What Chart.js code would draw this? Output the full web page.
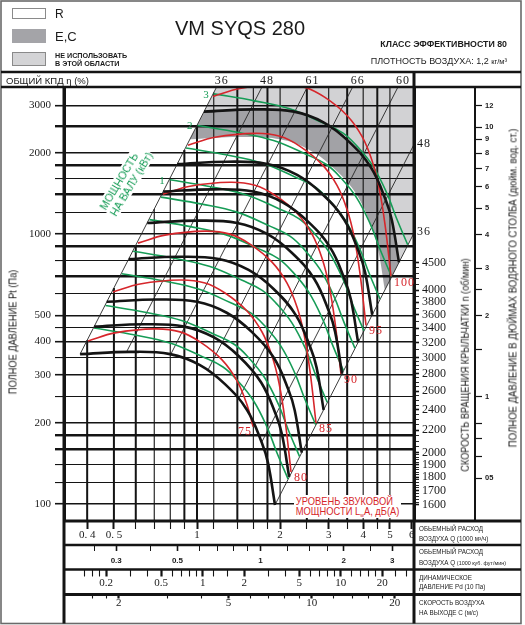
<!DOCTYPE html>
<html lang="ru">
<head>
<meta charset="utf-8">
<title>VM SYQS 280</title>
<script src="https://cdn.jsdelivr.net/npm/chart.js@4.4.1/dist/chart.umd.min.js"></script>
<style>
html,body{margin:0;padding:0;background:#fff;}
#wrap{position:relative;width:525px;height:625px;overflow:hidden;font-family:"Liberation Sans",Arial,sans-serif;color:#1b1b1b;}
#c{position:absolute;left:0;top:0;}
.t{position:absolute;white-space:nowrap;line-height:1;z-index:2;}
.box{position:absolute;z-index:2;box-sizing:border-box;}
.rot{position:absolute;white-space:nowrap;line-height:1;z-index:2;transform-origin:50% 50%;}
.row{position:absolute;left:419px;white-space:nowrap;line-height:1;font-size:7px;z-index:2;transform-origin:0 50%;transform:scaleX(0.9);}
</style>
</head>
<body>
<div id="wrap">
<canvas id="c" width="525" height="625"></canvas>

<div class="box" style="left:12px;top:8px;width:34px;height:11px;border:1px solid #8a8a8a;background:#fff"></div>
<div class="t" style="left:55px;top:8.3px;font-size:12px">R</div>
<div class="box" style="left:12px;top:29px;width:34px;height:14px;background:#a4a4a8"></div>
<div class="t" style="left:55px;top:30.3px;font-size:13px">E,C</div>
<div class="box" style="left:12px;top:52px;width:34px;height:14px;border:1px solid #8a8a8a;background:#d4d4d6"></div>
<div class="t" style="left:55px;top:52px;font-size:7.2px;font-weight:bold">НЕ ИСПОЛЬЗОВАТЬ</div>
<div class="t" style="left:55px;top:59.5px;font-size:7.2px;font-weight:bold">В ЭТОЙ ОБЛАСТИ</div>
<div class="t" style="left:175px;top:18px;font-size:20px">VM SYQS 280</div>
<div class="t" style="right:18px;top:39.7px;font-size:8.8px;font-weight:bold">КЛАСС ЭФФЕКТИВНОСТИ 80</div>
<div class="t" style="right:18px;top:57.1px;font-size:9px">ПЛОТНОСТЬ ВОЗДУХА: 1,2 <span style="font-size:7.5px">кг/м³</span></div>
<div class="t" style="left:6px;top:76.3px;font-size:9.5px">ОБЩИЙ КПД η (%)</div>

<div class="rot" style="left:12.5px;top:332px;font-size:11px;transform:translate(-50%,-50%) rotate(-90deg) scaleX(0.84)">ПОЛНОЕ ДАВЛЕНИЕ Pt (Па)</div>
<div class="rot" style="left:465px;top:365px;font-size:10.5px;transform:translate(-50%,-50%) rotate(-90deg) scaleX(0.875)">СКОРОСТЬ ВРАЩЕНИЯ КРЫЛЬЧАТКИ n (об/мин)</div>
<div class="rot" style="left:513px;top:288px;font-size:11px;transform:translate(-50%,-50%) rotate(-90deg) scaleX(0.87)">ПОЛНОЕ ДАВЛЕНИЕ В ДЮЙМАХ ВОДЯНОГО СТОЛБА (дюйм. вод. ст.)</div>

<div class="rot" style="left:125.5px;top:181px;font-size:10.7px;line-height:12px;color:#169c56;background:#fff;padding:0 1px;transform:translate(-50%,-50%) rotate(-59deg)">МОЩНОСТЬ<br>НА ВАЛУ (кВт)</div>

<div class="t" style="left:294px;top:494.6px;padding:1px 2px;font-size:11px;line-height:10.7px;color:#d6262b;background:#fff;transform-origin:0 0;transform:scaleX(0.85)">УРОВЕНЬ ЗВУКОВОЙ<br>МОЩНОСТИ L<sub style="font-size:6px;vertical-align:-2px;line-height:0">w</sub>A, дБ(A)</div>

<div class="row" style="top:524.9px">ОБЬЕМНЫЙ РАСХОД</div>
<div class="row" style="top:535.4px">ВОЗДУХА Q (1000 м³/ч)</div>
<div class="row" style="top:548.4px">ОБЬЕМНЫЙ РАСХОД</div>
<div class="row" style="top:558.6px">ВОЗДУХА Q <span style="font-size:6px">(1000 куб. фут/мин)</span></div>
<div class="row" style="top:574.1px">ДИНАМИЧЕСКОЕ</div>
<div class="row" style="top:583.3px">ДАВЛЕНИЕ Pd (10 Па)</div>
<div class="row" style="top:599.3px">СКОРОСТЬ ВОЗДУХА</div>
<div class="row" style="top:609.3px">НА ВЫХОДЕ C (м/с)</div>
</div>

<script>
// ================= DATA =================
// Fan curves at constant impeller speed: flow Q [1000 m3/h], total pressure Pt [Pa]
const RPM_VALUES = [1600, 1800, 2000, 2400, 2800, 3200, 3600, 4500];
const RPM_Q = [
  [0.377, 0.572, 0.799, 1.025, 1.263, 1.518, 1.720, 1.808, 1.917],
  [0.424, 0.644, 0.899, 1.153, 1.421, 1.708, 1.935, 2.034, 2.157],
  [0.471, 0.715, 0.999, 1.281, 1.579, 1.898, 2.150, 2.260, 2.396],
  [0.566, 0.858, 1.199, 1.538, 1.895, 2.277, 2.580, 2.712, 2.876],
  [0.660, 1.001, 1.398, 1.794, 2.210, 2.657, 3.010, 3.164, 3.355],
  [0.754, 1.144, 1.598, 2.050, 2.526, 3.036, 3.440, 3.616, 3.834],
  [0.848, 1.287, 1.798, 2.306, 2.842, 3.416, 3.870, 4.068, 4.313],
  [1.060, 1.609, 2.247, 2.883, 3.552, 4.269, 4.838, 5.085, 5.392]
];
const RPM_P = [
  [359, 366, 359, 327, 278, 223, 168, 142, 99.2],
  [454, 463, 454, 414, 352, 282, 213, 180, 126],
  [561, 572, 561, 511, 434, 348, 263, 222, 155],
  [808, 824, 808, 736, 626, 502, 378, 320, 223],
  [1099, 1121, 1099, 1001, 851, 683, 515, 435, 304],
  [1436, 1464, 1436, 1308, 1112, 892, 672, 568, 397],
  [1817, 1853, 1817, 1655, 1407, 1129, 851, 719, 502],
  [2840, 2895, 2840, 2587, 2199, 1764, 1329, 1123, 785]
];
// Lower edge of the E,C band
const EC_LIMIT_Q = [0.943, 1.430, 1.998, 2.563, 3.158, 3.795, 4.300, 4.520, 4.793];
const EC_LIMIT_P = [2244, 2288, 2244, 2044, 1738, 1394, 1050, 888, 620];

// Sound power level curves, LwA dB(A)
const SOUND_DB = [75, 80, 85, 90, 95, 100];
const SOUND_Q = [
  [0.4028, 0.5046, 0.7043, 0.8678, 1.0254, 1.2323, 1.3966, 1.5179, 1.5958],
  [0.4962, 0.6216, 0.8676, 1.0690, 1.2631, 1.5180, 1.7204, 1.8698, 1.9821, 2.0838, 2.1910],
  [0.6112, 0.7657, 1.0687, 1.3168, 1.5559, 1.8699, 2.1192, 2.3032, 2.4416, 2.5668, 2.6989],
  [0.7529, 0.9432, 1.3165, 1.6221, 1.9166, 2.3034, 2.6105, 2.8372, 3.0076, 3.1620, 3.3246],
  [0.9274, 1.1618, 1.6216, 1.9981, 2.3609, 2.8373, 3.2156, 3.4949, 3.7048, 3.8948, 4.0952],
  [1.1425, 1.4312, 1.9976, 2.4614, 2.9083, 3.4952, 3.9612, 4.3052, 4.5638, 4.7980, 5.0448]
];
const SOUND_P = [
  [401.9, 430.3, 445.2, 434.0, 398.4, 341.8, 285.7, 232.9, 193.5],
  [609.8, 652.9, 675.5, 658.5, 604.6, 518.6, 433.6, 353.4, 280.7, 204.7, 131.4],
  [925.3, 990.7, 1025.0, 999.2, 917.4, 786.9, 657.9, 536.3, 425.9, 310.6, 199.4],
  [1404.1, 1503.3, 1555.3, 1516.2, 1392.1, 1194.1, 998.4, 813.7, 646.3, 471.3, 302.5],
  [2130.5, 2281.1, 2360.1, 2300.7, 2112.4, 1811.9, 1514.9, 1234.7, 980.7, 715.2, 459.1],
  [3232.9, 3461.3, 3581.2, 3491.0, 3205.3, 2749.4, 2298.7, 1873.5, 1488.1, 1085.2, 696.6]
];

// Shaft power curves, kW
const POWER_KW = [0.15, 0.2, 0.3, 0.4, 0.6, 0.8, 1, 1.5, 2, 3];
const POWER_LABELED = [1, 2, 3];
const POWER_Q = [
  [0.4235, 0.5962, 0.7985, 1.0513, 1.2422, 1.3963, 1.5959, 1.7933, 1.9494, 2.1368],
  [0.4661, 0.6562, 0.8788, 1.1571, 1.3672, 1.5368, 1.7565, 1.9737, 2.1455, 2.3518],
  [0.5336, 0.7512, 1.0060, 1.3245, 1.5651, 1.7592, 2.0107, 2.2594, 2.4561, 2.6922],
  [0.5873, 0.8268, 1.1073, 1.4578, 1.7226, 1.9363, 2.2130, 2.4868, 2.7032, 2.9631],
  [0.6723, 0.9464, 1.2675, 1.6688, 1.9719, 2.2165, 2.5333, 2.8467, 3.0945, 3.3920],
  [0.7399, 1.0417, 1.3951, 1.8368, 2.1704, 2.4396, 2.7884, 3.1333, 3.4060, 3.7334],
  [0.7971, 1.1221, 1.5029, 1.9787, 2.3380, 2.6280, 3.0036, 3.3752, 3.6690, 4.0217],
  [0.9124, 1.2845, 1.7203, 2.2649, 2.6762, 3.0082, 3.4382, 3.8635, 4.1998, 4.6035],
  [1.0043, 1.4138, 1.8935, 2.4930, 2.9456, 3.3111, 3.7844, 4.2525, 4.6226, 5.0670],
  [1.1496, 1.6183, 2.1675, 2.8537, 3.3718, 3.7901, 4.3319, 4.8677, 5.2915, 5.8001]
];
const POWER_P = [
  [448.6, 422.6, 394.8, 350.4, 321.7, 287.9, 242.7, 192.8, 154.5, 123.8],
  [543.4, 511.9, 478.3, 424.5, 389.7, 348.8, 294.0, 233.6, 187.2, 150.0],
  [712.1, 670.8, 626.7, 556.2, 510.7, 457.0, 385.3, 306.1, 245.3, 196.5],
  [862.7, 812.7, 759.2, 673.8, 618.6, 553.6, 466.7, 370.8, 297.1, 238.1],
  [1130.4, 1064.9, 994.8, 882.9, 810.6, 725.5, 611.6, 485.8, 389.3, 311.9],
  [1369.4, 1290.1, 1205.2, 1069.7, 982.1, 878.9, 740.9, 588.6, 471.6, 377.9],
  [1589.1, 1497.0, 1398.5, 1241.2, 1139.6, 1019.8, 859.7, 683.0, 547.3, 438.5],
  [2082.2, 1961.5, 1832.5, 1626.4, 1493.2, 1336.3, 1126.5, 894.9, 717.1, 574.6],
  [2522.5, 2376.3, 2220.0, 1970.3, 1809.0, 1618.9, 1364.7, 1084.1, 868.8, 696.1],
  [3305.3, 3113.8, 2908.9, 2581.8, 2370.3, 2121.3, 1788.2, 1420.6, 1138.4, 912.2]
];

// Efficiency rays (total efficiency, %): start on the lowest curve, end beyond the frame
const ETA = [36, 48, 61, 66, 60, 48, 36];
const DIAG_FROM_Q = [0.377, 0.555, 0.804, 1.095, 1.414, 1.719, 1.917];
const DIAG_FROM_P = [359, 365, 359, 313, 245, 170, 99.2];
const DIAG_TO_Q = [1.210, 1.767, 2.580, 3.765, 5.496, 6.2, 6.2];
const DIAG_TO_P = [3700, 3700, 3700, 3700, 3700, 2210, 1037.5];

// Grid and tick values
const P_TICKS = [100, 120, 140, 160, 180, 200, 250, 300, 350, 400, 450, 500, 600, 700, 800, 900, 1000, 1200, 1400, 1600, 1800, 2000, 2500, 3000];
const P_LABELS = [100, 200, 300, 400, 500, 1000, 2000, 3000];
const P_THICK = [160, 180, 700, 900, 1400, 1800, 2500];
const V_GRID_Q = [0.4, 0.5, 0.6, 0.7, 0.8, 0.9, 1, 1.15, 1.4, 1.6, 1.8, 2, 2.5, 3, 3.5, 4, 4.5, 5];
const V_GRID_THICK = [0.4, 0.5, 0.6, 0.9, 1, 1.4, 1.8, 2.5, 3.5, 4.5];
const Q_TICKS = [0.4, 0.5, 0.6, 0.7, 0.8, 0.9, 1, 1.15, 1.4, 1.6, 1.8, 2, 2.5, 3, 3.5, 4, 4.5, 5, 6];
const Q_LABELS = [0.4, 0.5, 1, 2, 3, 4, 5, 6];
const Q_LABEL_TEXT = ['0. 4', '0. 5', '1', '2', '3', '4', '5', '6'];
const CFM_TICKS = [0.25, 0.3, 0.4, 0.5, 0.6, 0.7, 0.8, 0.9, 1, 1.25, 1.5, 1.75, 2, 2.5, 3];
const CFM_LABELS = [0.3, 0.5, 1, 2, 3];
const PD_TICKS = [0.14, 0.16, 0.18, 0.2, 0.3, 0.4, 0.5, 0.6, 0.7, 0.8, 0.9, 1, 1.2, 1.5, 2, 3, 4, 5, 6, 7, 8, 9, 10, 12, 14, 16, 18, 20, 25, 30];
const PD_LABELS = [0.2, 0.5, 1, 2, 5, 10, 20];
const C_TICKS = [1.6, 1.8, 2, 3, 4, 5, 6, 7, 8, 9, 10, 12, 14, 16, 18, 20];
const C_LABELS = [2, 5, 10, 20];
const RPM_LABELS = [1600, 1700, 1800, 1900, 2000, 2200, 2400, 2600, 2800, 3000, 3200, 3400, 3600, 3800, 4000, 4500];
const RPM_MINOR = [1620, 1640, 1660, 1680, 1720, 1740, 1760, 1780, 1820, 1840, 1860, 1880, 1920, 1940, 1960, 1980,
  2050, 2100, 2150, 2250, 2300, 2350, 2450, 2500, 2550, 2650, 2700, 2750, 2850, 2900, 2950,
  3100, 3300, 3500, 3700, 3900, 4100, 4200, 4300, 4400];
const INCH_TICKS = [0.5, 0.6, 0.7, 0.8, 1, 1.5, 2, 2.5, 3, 4, 5, 6, 7, 8, 9, 10, 12];
const INCH_LABELS = [0.5, 1, 2, 3, 4, 5, 6, 7, 8, 9, 10, 12];
const INCH_LABEL_TEXT = ['05', '1', '2', '3', '4', '5', '6', '7', '8', '9', '10', '12'];

// Axis ranges and unit conversions
const Q_MIN = 0.3297, Q_MAX = 6.112, P_MIN = 86.5, P_MAX = 3504;
const CFM_FACTOR = 1.699;   // 1000 m3/h per 1000 cfm
const PD_Q_REF = 1.0487;    // Q where dynamic pressure = 10 Pa
const C_FACTOR = 3.841;     // outlet velocity m/s per 1000 m3/h
const INCH_PA = 249.09;     // Pa per inch of water

// ================= BUILD =================
const BLACK = '#141414', RED = '#d6262b', GREEN = '#169c56';
const SERIF = "'Liberation Serif','Times New Roman',serif";
const SANS = "'Liberation Sans',Arial,sans-serif";
Chart.defaults.font.family = SANS;

const near = (a, b) => Math.abs(a - b) <= 1e-7 * Math.max(1, Math.abs(b));
const has = (arr, v) => arr.some(w => near(w, v));
const pts = (qs, ps) => qs.map((q, i) => ({x: q, y: ps[i]}));
const dupEnds = arr => [arr[0], ...arr, arr[arr.length - 1]];
const setTicks = vals => scale => { scale.ticks = vals.map(v => ({value: v})); };
const labeler = (vals, texts) => v => { const i = vals.findIndex(w => near(w, v)); return i < 0 ? '' : (texts ? texts[i] : String(vals[i])); };
const tickW = (labels, wMaj, wMin) => c => (c.tick && has(labels, c.tick.value)) ? wMaj : wMin;

const RPM_TICKS = [...RPM_LABELS, ...RPM_MINOR].sort((a, b) => a - b);
const RPM_BASE_END_P = RPM_P[0][RPM_P[0].length - 1];
const RPM_MIN = RPM_VALUES[0] * Math.sqrt(P_MIN / RPM_BASE_END_P);
const RPM_MAX = RPM_VALUES[0] * Math.sqrt(P_MAX / RPM_BASE_END_P);

const common = {pointRadius: 0, pointHoverRadius: 0, xAxisID: 'x', yAxisID: 'y'};
const datasets = [];

// zones
const topCurve = pts(RPM_Q[RPM_Q.length - 1], RPM_P[RPM_P.length - 1]);
const ecCurve = pts(EC_LIMIT_Q, EC_LIMIT_P);
const diagTop = {x: DIAG_TO_Q[0], y: DIAG_TO_P[0]};
const diagRight = {x: DIAG_TO_Q[DIAG_TO_Q.length - 1], y: DIAG_TO_P[DIAG_TO_P.length - 1]};
const corner = {x: diagRight.x, y: diagTop.y};
const lightZone = [diagTop, diagTop, corner, corner, diagRight, diagRight, ...dupEnds(topCurve.slice().reverse())];
const ecZone = [...dupEnds(topCurve), ...dupEnds(ecCurve.slice().reverse())];
datasets.push({...common, label: 'НЕ ИСПОЛЬЗОВАТЬ', data: lightZone, fill: 'shape', backgroundColor: 'rgba(0,0,14,0.175)', borderColor: 'rgba(0,0,0,0)', borderWidth: 0, tension: 0.4, order: 40});
datasets.push({...common, label: 'E,C', data: ecZone, fill: 'shape', backgroundColor: 'rgba(0,0,10,0.365)', borderColor: 'rgba(0,0,0,0)', borderWidth: 0, tension: 0.4, order: 39});

// vertical grid (only right of the left efficiency ray)
const kLeft = DIAG_FROM_P[0] / (DIAG_FROM_Q[0] * DIAG_FROM_Q[0]);
V_GRID_Q.forEach(q => datasets.push({...common, label: 'grid', fill: false, tension: 0,
  data: [{x: q, y: Math.min(kLeft * q * q, DIAG_TO_P[0])}, {x: q, y: P_MIN * 0.9}],
  borderColor: BLACK, borderWidth: has(V_GRID_THICK, q) ? 2 : 1.1, order: 30}));

// efficiency rays
ETA.forEach((e, j) => datasets.push({...common, label: 'η ' + e, fill: false, tension: 0,
  data: [{x: DIAG_FROM_Q[j], y: DIAG_FROM_P[j]}, {x: DIAG_TO_Q[j], y: DIAG_TO_P[j]}],
  borderColor: '#262626', borderWidth: 0.9, order: 28}));

POWER_KW.forEach((kw, i) => datasets.push({...common, label: kw + ' кВт', fill: false, tension: 0.4,
  data: pts(POWER_Q[i], POWER_P[i]), borderColor: GREEN, borderWidth: 1.6, order: 12}));
SOUND_DB.forEach((db, i) => datasets.push({...common, label: db + ' дБ(A)', fill: false, tension: 0.4,
  data: pts(SOUND_Q[i], SOUND_P[i]), borderColor: RED, borderWidth: 1.6, order: 10}));
RPM_VALUES.forEach((n, i) => datasets.push({...common, label: n + ' об/мин', fill: false, tension: 0.4,
  data: pts(RPM_Q[i], RPM_P[i]), borderColor: BLACK, borderWidth: 2.6, order: 8}));

function bottomAxis(weight, min, max, ticks, labels, texts, height, tickLen, pad, font, wMaj, wMin) {
  return {
    type: 'logarithmic', axis: 'x', position: 'bottom', weight, min, max, bounds: 'data',
    afterBuildTicks: setTicks(ticks),
    afterFit: s => { s.height = height; },
    border: {display: false},
    grid: {display: true, drawOnChartArea: false, drawTicks: true, tickLength: tickLen, color: BLACK, lineWidth: 1, tickWidth: tickW(labels, wMaj, wMin)},
    ticks: {autoSkip: false, maxRotation: 0, minRotation: 0, padding: pad, color: '#1a1a1a', font, callback: labeler(labels, texts)}
  };
}

const framePlugin = {
  id: 'frame',
  afterDraw(chart) {
    const {ctx, chartArea: a, scales} = chart;
    const X = scales.x, Y = scales.y;
    const R = 521, B = 623.5;
    ctx.save();
    const L = (x1, y1, x2, y2, w, c) => { ctx.beginPath(); ctx.lineWidth = w; ctx.strokeStyle = c || BLACK; ctx.moveTo(x1, y1); ctx.lineTo(x2, y2); ctx.stroke(); };
    ctx.lineWidth = 1.6; ctx.strokeStyle = '#6a6a6a'; ctx.strokeRect(1, 1, R - 1, B - 1);
    L(1, 72, R, 72, 2.5);
    L(1, a.top, R, a.top, 2.5);
    L(a.left, a.top, a.left, B, 3);
    L(a.right, 72, a.right, B, 3);
    ['x', 'xcfm', 'xpd', 'xc'].forEach((id, i) => L(a.left, scales[id].top, R, scales[id].top, (i === 0 || i === 3) ? 3 : 2.4));

    const hasLS = 'letterSpacing' in ctx;
    // efficiency labels
    ctx.fillStyle = '#1a1a1a';
    ctx.font = "12px " + SERIF;
    if (hasLS) ctx.letterSpacing = '1px';
    ETA.forEach((eta, j) => {
      const x0 = X.getPixelForValue(DIAG_FROM_Q[j]), y0 = Y.getPixelForValue(DIAG_FROM_P[j]);
      const x1 = X.getPixelForValue(DIAG_TO_Q[j]), y1 = Y.getPixelForValue(DIAG_TO_P[j]);
      const dxdy = (x1 - x0) / (y1 - y0);
      const xTop = x0 + (a.top - y0) * dxdy;
      ctx.textBaseline = 'middle';
      if (xTop <= a.right) {
        const ly = (72 + a.top) / 2 + 1.5;
        ctx.textAlign = 'center';
        ctx.fillText(String(eta), x0 + (ly - y0) * dxdy + 2, ly);
      } else {
        const yEdge = y0 + (a.right - x0) / dxdy;
        ctx.textAlign = 'left';
        ctx.fillText(String(eta), a.right + 3, yEdge - 1);
      }
    });
    // power labels
    if (hasLS) ctx.letterSpacing = '0px';
    ctx.fillStyle = GREEN; ctx.font = "11px " + SERIF;
    POWER_KW.forEach((kw, i) => {
      if (!has(POWER_LABELED, kw)) return;
      const px = X.getPixelForValue(POWER_Q[i][0]), py = Y.getPixelForValue(POWER_P[i][0]);
      ctx.textAlign = 'right'; ctx.textBaseline = 'middle';
      ctx.fillText(String(kw), px - 5, py + 1);
    });
    // sound labels
    ctx.fillStyle = RED; ctx.font = "12px " + SERIF;
    if (hasLS) ctx.letterSpacing = '1px';
    SOUND_DB.forEach((db, i) => {
      const q = SOUND_Q[i], p = SOUND_P[i];
      const ex = X.getPixelForValue(q[q.length - 1]), ey = Y.getPixelForValue(p[p.length - 1]);
      ctx.textBaseline = 'middle';
      if (i === 0) { ctx.textAlign = 'right'; ctx.fillText(String(db), ex - 1, ey + 5.5); }
      else { ctx.textAlign = 'left'; ctx.fillText(String(db), ex + 3, ey + 6); }
    });
    if (hasLS) ctx.letterSpacing = '0px';
    ctx.restore();
  }
};

new Chart(document.getElementById('c').getContext('2d'), {
  type: 'line',
  data: {datasets},
  options: {
    responsive: false,
    animation: false,
    events: [],
    layout: {padding: {left: 2, right: 4, top: 87, bottom: 2}},
    plugins: {legend: {display: false}, tooltip: {enabled: false}},
    scales: {
      x: bottomAxis(1, Q_MIN, Q_MAX, Q_TICKS, Q_LABELS, Q_LABEL_TEXT, 24, 8, 0, {family: SERIF, size: 11}, 2, 1.1),
      xcfm: bottomAxis(2, Q_MIN / CFM_FACTOR, Q_MAX / CFM_FACTOR, CFM_TICKS, CFM_LABELS, null, 24.5, 6, 5, {family: SANS, size: 8, weight: 'bold'}, 1.6, 1),
      xpd: bottomAxis(3, Math.pow(Q_MIN / PD_Q_REF, 2), Math.pow(Q_MAX / PD_Q_REF, 2), PD_TICKS, PD_LABELS, null, 25, 7, 0, {family: SERIF, size: 11}, 2.2, 1.1),
      xc: bottomAxis(4, Q_MIN * C_FACTOR, Q_MAX * C_FACTOR, C_TICKS, C_LABELS, null, 28.5, 4, -2, {family: SERIF, size: 11}, 2.2, 1.1),
      y: {
        type: 'logarithmic', axis: 'y', position: 'left', min: P_MIN, max: P_MAX, bounds: 'data',
        afterBuildTicks: setTicks(P_TICKS),
        afterFit: s => { s.width = 62; },
        border: {display: true, width: 3, color: BLACK},
        grid: {display: true, drawOnChartArea: true, drawTicks: true, tickLength: 9, color: BLACK,
          lineWidth: c => c.tick ? (has(P_THICK, c.tick.value) ? 2.4 : (has(P_LABELS, c.tick.value) ? 1.4 : 1.1)) : 1,
          tickWidth: c => c.tick ? (has(P_THICK, c.tick.value) ? 2.4 : (has(P_LABELS, c.tick.value) ? 1.6 : 1.1)) : 1},
        ticks: {autoSkip: false, padding: 4, color: '#1a1a1a', font: {family: SERIF, size: 11}, callback: labeler(P_LABELS)}
      },
      yr: {
        type: 'logarithmic', axis: 'y', position: 'right', weight: 1, min: RPM_MIN, max: RPM_MAX, bounds: 'data',
        afterBuildTicks: setTicks(RPM_TICKS),
        afterFit: s => { s.width = 61; },
        border: {display: true, width: 3, color: BLACK},
        grid: {display: true, drawOnChartArea: false, drawTicks: true, tickLength: 5, color: BLACK, tickWidth: tickW(RPM_LABELS, 1.6, 0.9)},
        ticks: {autoSkip: false, padding: 3, color: '#1a1a1a', font: {family: SERIF, size: 12}, callback: labeler(RPM_LABELS)}
      },
      yi: {
        type: 'logarithmic', axis: 'y', position: 'right', weight: 2, min: P_MIN / INCH_PA, max: P_MAX / INCH_PA, bounds: 'data',
        afterBuildTicks: setTicks(INCH_TICKS),
        afterFit: s => { s.width = 46; },
        border: {display: true, width: 2, color: BLACK},
        grid: {display: true, drawOnChartArea: false, drawTicks: true, tickLength: 7, color: BLACK, tickWidth: 1.2},
        ticks: {autoSkip: false, padding: 3, color: '#1a1a1a', font: {family: SANS, size: 7.5, weight: 'bold'}, callback: labeler(INCH_LABELS, INCH_LABEL_TEXT)}
      }
    }
  },
  plugins: [framePlugin]
});
</script>
</body>
</html>
